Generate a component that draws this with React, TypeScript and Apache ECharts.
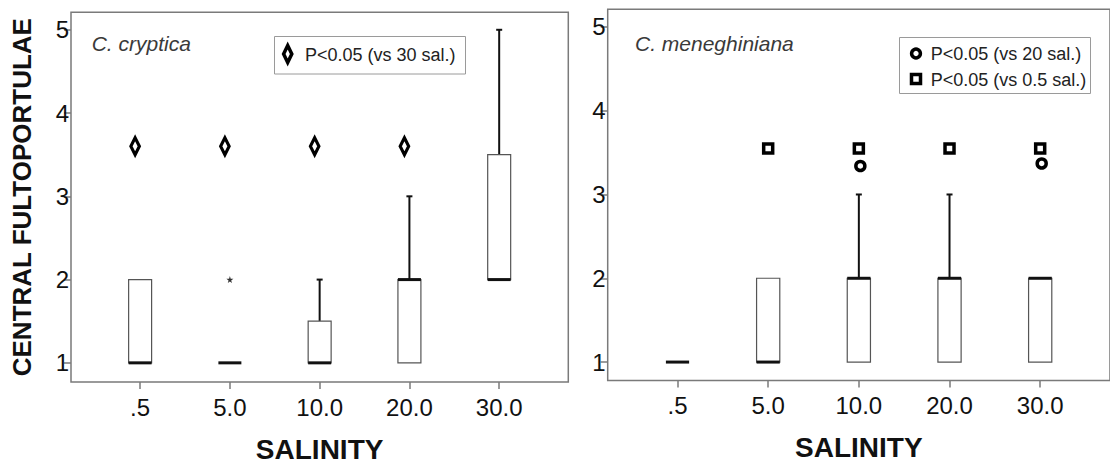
import React, { useEffect, useRef } from "react";
import * as echarts from "echarts";

const salinity = [".5", "5.0", "10.0", "20.0", "30.0"];
const yTicks = [1, 2, 3, 4, 5];
const xTicks = [0, 1, 2, 3, 4];

// [min, Q1, median, Q3, max]
const crypticaBoxes = [
  [1, 1, 1, 2, 2],
  [1, 1, 1, 1, 1],
  [1, 1, 1, 1.5, 2],
  [1, 1, 2, 2, 3],
  [2, 2, 2, 3.5, 5],
];
const meneghinianaBoxes = [
  [1, 1, 1, 1, 1],
  [1, 1, 1, 2, 2],
  [1, 1, 2, 2, 3],
  [1, 1, 2, 2, 3],
  [1, 1, 2, 2, 2],
];
const crypticaOutliers = [[1, 2]];
const crypticaVs30 = [[0, 3.6], [1, 3.6], [2, 3.6], [3, 3.6]];
const meneghinianaVs05 = [[1, 3.55], [2, 3.55], [3, 3.55], [4, 3.55]];
const meneghinianaVs20 = [[2, 3.34], [4, 3.37]];

const FONT = "'Liberation Sans', Arial, Helvetica, sans-serif";
const FRAME = "#7a7a7a";

function renderBox(params: any, api: any) {
  const x = api.value(0);
  const mn = api.value(1);
  const q1 = api.value(2);
  const md = api.value(3);
  const q3 = api.value(4);
  const mx = api.value(5);
  const unit = api.size([1, 0])[0];
  const hw = unit * 0.128;
  const capHw = 3;
  const pMin = api.coord([x, mn]);
  const pQ1 = api.coord([x, q1]);
  const pMed = api.coord([x, md]);
  const pQ3 = api.coord([x, q3]);
  const pMax = api.coord([x, mx]);
  const cx = pMed[0];
  const children: any[] = [];
  if (mx > q3) {
    children.push({
      type: "line",
      shape: { x1: cx, y1: pQ3[1], x2: cx, y2: pMax[1] },
      style: { stroke: "#111", lineWidth: 2 },
    });
    children.push({
      type: "line",
      shape: { x1: cx - capHw, y1: pMax[1], x2: cx + capHw, y2: pMax[1] },
      style: { stroke: "#111", lineWidth: 2 },
    });
  }
  if (mn < q1) {
    children.push({
      type: "line",
      shape: { x1: cx, y1: pQ1[1], x2: cx, y2: pMin[1] },
      style: { stroke: "#111", lineWidth: 2 },
    });
    children.push({
      type: "line",
      shape: { x1: cx - capHw, y1: pMin[1], x2: cx + capHw, y2: pMin[1] },
      style: { stroke: "#111", lineWidth: 2 },
    });
  }
  if (q3 > q1) {
    children.push({
      type: "rect",
      shape: { x: cx - hw, y: pQ3[1], width: hw * 2, height: pQ1[1] - pQ3[1] },
      style: { fill: "#fff", stroke: "#555", lineWidth: 1.2 },
    });
  }
  children.push({
    type: "line",
    shape: { x1: cx - hw, y1: pMed[1], x2: cx + hw, y2: pMed[1] },
    style: { stroke: "#111", lineWidth: 3 },
  });
  return { type: "group", children };
}

function xAxisFor(gridIndex: number, withName: boolean) {
  return {
    type: "value",
    gridIndex,
    min: -0.77,
    max: 4.77,
    name: withName ? "SALINITY" : "",
    nameLocation: "middle",
    nameGap: 53,
    nameTextStyle: { fontFamily: FONT, fontSize: 28, fontWeight: "bold", color: "#111" },
    axisLine: { show: false, onZero: false },
    splitLine: { show: false },
    axisTick: {
      show: true,
      customValues: xTicks,
      length: 7,
      lineStyle: { color: FRAME, width: 1.5 },
    },
    axisLabel: {
      customValues: xTicks,
      formatter: (v: number) => salinity[Math.round(v)],
      margin: 13,
      fontFamily: FONT,
      fontSize: 24,
      color: "#111",
    },
  };
}

function yAxisFor(gridIndex: number, min: number, name: string) {
  return {
    type: "value",
    gridIndex,
    min,
    max: 5.21,
    name,
    nameLocation: "middle",
    nameGap: 36,
    nameTextStyle: { fontFamily: FONT, fontSize: 26, fontWeight: "bold", color: "#111" },
    axisLine: { show: false, onZero: false },
    splitLine: { show: false },
    axisTick: {
      show: true,
      customValues: yTicks,
      length: 7,
      lineStyle: { color: FRAME, width: 1.5 },
    },
    axisLabel: {
      customValues: yTicks,
      margin: 2,
      fontFamily: FONT,
      fontSize: 24,
      color: "#111",
    },
  };
}

const sigStyle = { color: "#fff", borderColor: "#000", borderWidth: 3.5, opacity: 1 };

export default function App() {
  const ref = useRef<HTMLDivElement>(null);
  useEffect(() => {
    if (!ref.current) return;
    const chart = echarts.init(ref.current, undefined, { renderer: "svg" });
    const option: any = {
      animation: false,
      backgroundColor: "#fff",
      grid: [
        {
          left: 71,
          top: 12.3,
          width: 497.3,
          height: 370.2,
          show: true,
          borderColor: FRAME,
          borderWidth: 1.5,
          backgroundColor: "transparent",
        },
        {
          left: 607.7,
          top: 9.3,
          width: 508,
          height: 371.2,
          show: true,
          borderColor: FRAME,
          borderWidth: 1.5,
          backgroundColor: "transparent",
        },
      ],
      xAxis: [xAxisFor(0, true), xAxisFor(1, true)],
      yAxis: [yAxisFor(0, 0.77, "CENTRAL FULTOPORTULAE"), yAxisFor(1, 0.78, "")],
      series: [
        {
          type: "custom",
          name: "C. cryptica",
          xAxisIndex: 0,
          yAxisIndex: 0,
          renderItem: renderBox,
          encode: { x: 0, y: [1, 2, 3, 4, 5] },
          data: crypticaBoxes.map((b, i) => [i, ...b]),
          z: 2,
        },
        {
          type: "scatter",
          name: "outliers",
          xAxisIndex: 0,
          yAxisIndex: 0,
          symbol:
            "path://M50,0 L61,35 L98,35 L68,57 L79,91 L50,70 L21,91 L32,57 L2,35 L39,35 Z",
          symbolSize: 7,
          itemStyle: { color: "#333", opacity: 1 },
          data: crypticaOutliers,
          z: 3,
        },
        {
          type: "scatter",
          name: "P<0.05 (vs 30 sal.)",
          xAxisIndex: 0,
          yAxisIndex: 0,
          symbol: "diamond",
          symbolSize: [8.5, 17],
          symbolOffset: [-5, 0],
          itemStyle: sigStyle,
          data: crypticaVs30,
          z: 4,
        },
        {
          type: "custom",
          name: "C. meneghiniana",
          xAxisIndex: 1,
          yAxisIndex: 1,
          renderItem: renderBox,
          encode: { x: 0, y: [1, 2, 3, 4, 5] },
          data: meneghinianaBoxes.map((b, i) => [i, ...b]),
          z: 2,
        },
        {
          type: "scatter",
          name: "P<0.05 (vs 0.5 sal.)",
          xAxisIndex: 1,
          yAxisIndex: 1,
          symbol: "rect",
          symbolSize: 9,
          itemStyle: sigStyle,
          data: meneghinianaVs05,
          z: 4,
        },
        {
          type: "scatter",
          name: "P<0.05 (vs 20 sal.)",
          xAxisIndex: 1,
          yAxisIndex: 1,
          symbol: "circle",
          symbolSize: 9,
          symbolOffset: [1.5, 0],
          itemStyle: sigStyle,
          data: meneghinianaVs20,
          z: 4,
        },
      ],
      graphic: [
        {
          type: "text",
          x: 91.7,
          y: 43.5,
          style: {
            text: "C. cryptica",
            font: `italic 21px ${FONT}`,
            fill: "#3a3a3a",
            textVerticalAlign: "middle",
          },
        },
        {
          type: "text",
          x: 635,
          y: 43.5,
          style: {
            text: "C. meneghiniana",
            font: `italic 21px ${FONT}`,
            fill: "#3a3a3a",
            textVerticalAlign: "middle",
          },
        },
        // legend, left panel
        {
          type: "rect",
          shape: { x: 274.5, y: 36.5, width: 191, height: 37.5 },
          style: { fill: "#fff", stroke: "#9a9a9a", lineWidth: 1 },
        },
        {
          type: "polygon",
          shape: { points: [[287.7, 45.5], [291.8, 54], [287.7, 62.5], [283.6, 54]] },
          style: { fill: "#fff", stroke: "#000", lineWidth: 3.5 },
        },
        {
          type: "text",
          x: 305,
          y: 55,
          style: {
            text: "P<0.05 (vs 30 sal.)",
            font: `18px ${FONT}`,
            fill: "#222",
            textVerticalAlign: "middle",
          },
        },
        // legend, right panel
        {
          type: "rect",
          shape: { x: 899.5, y: 37.5, width: 191, height: 56 },
          style: { fill: "#fff", stroke: "#9a9a9a", lineWidth: 1 },
        },
        {
          type: "circle",
          shape: { cx: 916, cy: 53.5, r: 4.4 },
          style: { fill: "#fff", stroke: "#000", lineWidth: 3.5 },
        },
        {
          type: "rect",
          shape: { x: 911.5, y: 74.5, width: 9, height: 9 },
          style: { fill: "#fff", stroke: "#000", lineWidth: 3.5 },
        },
        {
          type: "text",
          x: 930.7,
          y: 54,
          style: {
            text: "P<0.05 (vs 20 sal.)",
            font: `18px ${FONT}`,
            fill: "#222",
            textVerticalAlign: "middle",
          },
        },
        {
          type: "text",
          x: 930.7,
          y: 79.5,
          style: {
            text: "P<0.05 (vs 0.5 sal.)",
            font: `18px ${FONT}`,
            fill: "#222",
            textVerticalAlign: "middle",
          },
        },
      ],
    };
    chart.setOption(option);
    return () => chart.dispose();
  }, []);
  return (
    <div
      ref={ref}
      style={{ position: "absolute", left: 0, top: 0, width: 1110, height: 468, background: "#fff" }}
    />
  );
}
